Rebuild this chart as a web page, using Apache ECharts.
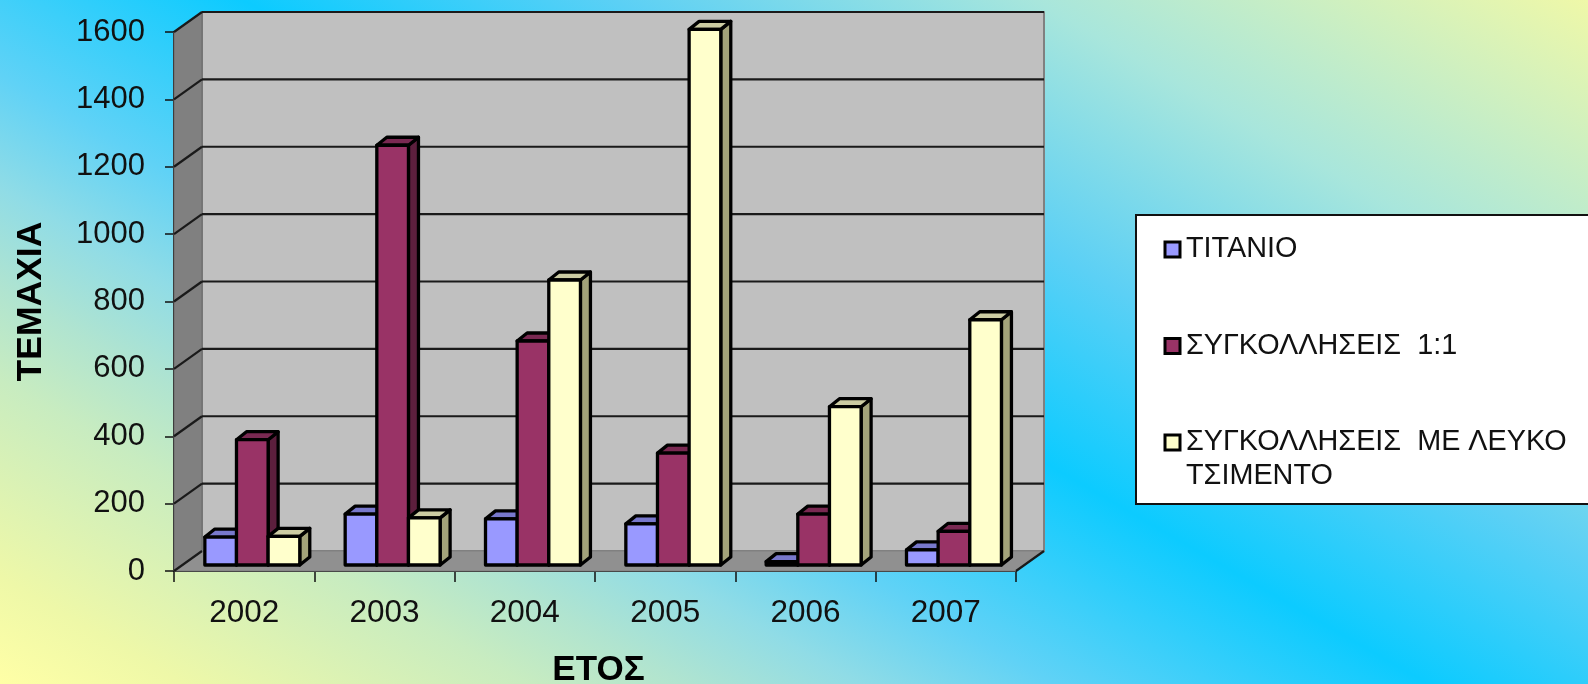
<!DOCTYPE html>
<html><head><meta charset="utf-8">
<style>html,body{margin:0;padding:0;width:1588px;height:684px;overflow:hidden;background:linear-gradient(30deg,#FFFFA6 0%,#EEF8A8 6.7%,#C8ECC0 19%,#B0E4D0 24.7%,#90DCE6 31%,#60D2F6 38%,#0CCBFF 51.5%,#5CD0F5 65%,#A8E6DC 80%,#EFF8A8 100%);}#c{width:1588px;height:684px;}</style>
<script src="https://cdn.jsdelivr.net/npm/echarts@6/dist/echarts.min.js"></script>
</head><body><div id="c"></div>
<script>
const categories = ['2002','2003','2004','2005','2006','2007'];
const titanio = [83,151,137,122,10,45];
const weld11 = [372,1246,665,332,151,100];
const weldWhite = [85,140,846,1590,470,728];
const yTicks = [0,200,400,600,800,1000,1200,1400,1600];
const nameA = 'ΤΙΤΑΝΙΟ';
const nameB = 'ΣΥΓΚΟΛΛΗΣΕΙΣ  1:1';
const nameC = 'ΣΥΓΚΟΛΛΗΣΕΙΣ  ΜΕ ΛΕΥΚΟ';
const nameC2 = 'ΤΣΙΜΕΝΤΟ';
const FONT = '"Liberation Sans"';
const WALL_DX = 28, WALL_DY = 20, BAR_DX = 10, BAR_DY = 8;

const chart = echarts.init(document.getElementById('c'), null, {renderer:'canvas'});

function poly(points, fill, stroke, lw){
  return {type:'polygon', shape:{points}, style:{fill, stroke, lineWidth:lw, lineJoin:'round'}};
}
function wallItem(params, api){
  if(params.dataIndex!==0) return {type:'group',children:[]};
  const cs = params.coordSys;
  const L=cs.x, R=cs.x+cs.width, T=cs.y, B=cs.y+cs.height;
  const d=WALL_DX, h=WALL_DY;
  const ch=[];
  ch.push(poly([[L+d,T-h],[R+d,T-h],[R+d,B-h],[L+d,B-h]],'#C0C0C0','#808080',2));
  ch.push(poly([[L,T],[L+d,T-h],[L+d,B-h],[L,B]],'#808080','#6b6b6b',1));
  ch.push(poly([[L,B],[L+d,B-h],[R+d,B-h],[R,B]],'#909090','#808080',1));
  yTicks.forEach(v=>{
    const y=api.coord([0,v])[1];
    if(v>0) ch.push({type:'line',shape:{x1:L+d,y1:y-h,x2:R+d,y2:y-h},style:{stroke:'#1a1a1a',lineWidth:2.2}});
    ch.push({type:'line',shape:{x1:L,y1:y,x2:L+d,y2:y-h},style:{stroke:'#1a1a1a',lineWidth:2.2}});
  });
  ch.push({type:'line',shape:{x1:R,y1:B,x2:R+d,y2:B-h},style:{stroke:'#1a1a1a',lineWidth:2.2}});
  return {type:'group',children:ch};
}
function barRenderer(slot, front, top, side){
  return function(params, api){
    const cat=api.value(0), val=api.value(1);
    const band=api.size([1,0])[0];
    const c=api.coord([cat,val]), b=api.coord([cat,0]);
    const w=band*0.2255;
    const x0=c[0]+band*(0.058)+(slot-1.5)*w, x1=x0+w;
    const yT=c[1]-6, yB=b[1]-6, d=BAR_DX, h=BAR_DY;
    return {type:'group',children:[
      poly([[x1,yT],[x1+d,yT-h],[x1+d,yB-h],[x1,yB]],side,'#000',3.3),
      poly([[x0,yT],[x0+d,yT-h],[x1+d,yT-h],[x1,yT]],top,'#000',3.3),
      poly([[x0,yT],[x1,yT],[x1,yB],[x0,yB]],front,'#000',3.3)
    ]};
  };
}
function barSeries(name,data,slot,front,topC,side,z){
  return {name,type:'custom',data:data.map((v,i)=>[i,v]),encode:{x:0,y:1},clip:false,z,
    itemStyle:{color:front},renderItem:barRenderer(slot,front,topC,side),silent:true};
}
const legendText={fontFamily:FONT,fontSize:28.8,color:'#111',padding:[0,0,0,1]};
chart.setOption({
  animation:false,
  grid:{left:174,right:572,top:32,bottom:113,outerBoundsMode:'none'},
  xAxis:{type:'category',data:categories,
    axisLine:{show:true,lineStyle:{color:'#111',width:2}},
    axisTick:{show:true,length:11,lineStyle:{color:'#111',width:1.5}},
    axisLabel:{fontFamily:FONT,fontSize:31.5,color:'#111',margin:26},
    name:'ΕΤΟΣ',nameLocation:'middle',nameGap:82,
    nameTextStyle:{fontFamily:FONT,fontSize:35,fontWeight:'bold',color:'#000',padding:[0,0,0,7]}},
  yAxis:{type:'value',min:0,max:1600,interval:200,
    axisLine:{show:true,lineStyle:{color:'#111',width:2}},
    axisTick:{show:true,length:9,lineStyle:{color:'#111',width:1.5}},
    splitLine:{show:false},
    axisLabel:{fontFamily:FONT,fontSize:31,color:'#111',margin:29,formatter:v=>String(v)},
    name:'ΤΕΜΑΧΙΑ',nameLocation:'middle',nameGap:125,
    nameTextStyle:{fontFamily:FONT,fontSize:35.5,fontWeight:'bold',color:'#000'}},
  legend:{orient:'vertical',left:1163.5,top:235,padding:0,itemGap:67.5,itemWidth:15,itemHeight:15,textStyle:legendText,
    z:20,selectedMode:false,
    data:[nameA,nameB,nameC].map((n,i)=>({name:n,icon:'rect',itemStyle:{color:['#9999FF','#993366','#FFFFCC'][i],borderColor:'#000',borderWidth:3}}))},
  graphic:[
    {type:'rect',z:10,shape:{x:1136,y:215,width:470,height:289},style:{fill:'#fff',stroke:'#111',lineWidth:2}},
    {type:'text',z:21,x:1186,y:462,style:{text:nameC2,font:'28.8px '+FONT,fill:'#111'}}
  ],
  series:[
    {name:'walls',type:'custom',data:[[0,0]],encode:{x:0,y:1},clip:false,z:1,renderItem:wallItem,silent:true},
    barSeries(nameA,titanio,0,'#9999FF','#7878CC','#5C5C99',3),
    barSeries(nameB,weld11,1,'#993366','#7A2952','#5C1F3D',4),
    barSeries(nameC,weldWhite,2,'#FFFFCC','#CCCCA3','#A3A37A',5)
  ]
});
</script></body></html>
